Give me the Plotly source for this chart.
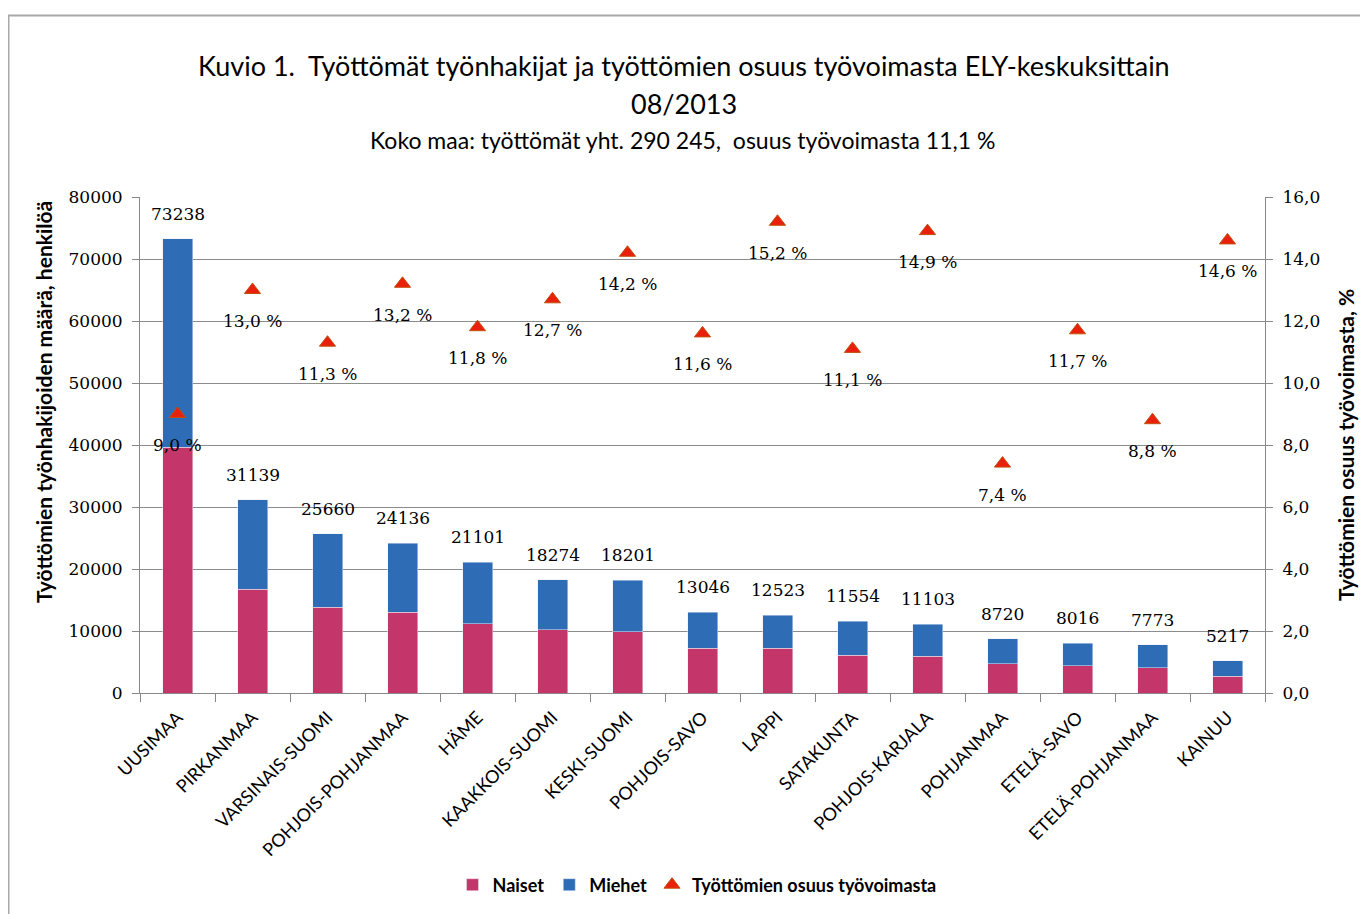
import plotly.graph_objects as go

regions = ["UUSIMAA", "PIRKANMAA", "VARSINAIS-SUOMI", "POHJOIS-POHJANMAA", "HÄME",
           "KAAKKOIS-SUOMI", "KESKI-SUOMI", "POHJOIS-SAVO", "LAPPI", "SATAKUNTA",
           "POHJOIS-KARJALA", "POHJANMAA", "ETELÄ-SAVO", "ETELÄ-POHJANMAA", "KAINUU"]
totals = [73238, 31139, 25660, 24136, 21101, 18274, 18201, 13046, 12523, 11554,
          11103, 8720, 8016, 7773, 5217]
naiset = [39600, 16700, 13800, 13000, 11200, 10200, 9900, 7200, 7200, 6100,
          5900, 4700, 4400, 4100, 2700]
miehet = [t - n for t, n in zip(totals, naiset)]
osuus = [9.0, 13.0, 11.3, 13.2, 11.8, 12.7, 14.2, 11.6, 15.2, 11.1, 14.9, 7.4, 11.7, 8.8, 14.6]

PINK = "#C4356A"
BLUE = "#2E6CB6"
SANS = "Lato, 'Open Sans', sans-serif"
SERIF = "'DejaVu Serif', serif"
TXT = "#000"

# page body has an 8px margin; work in page coordinates and convert
OFF = 8
W, H = 1360, 906
PL, PR, PT, PB = 140, 1265, 197, 693  # plot area in page pixels
ml = PL - OFF
mt = PT - OFF
mr = W - (PR - OFF)
mb = H - (PB - OFF)
pw, ph = W - ml - mr, H - mt - mb


def px(x):
    return (x - OFF - ml) / pw


def py(y):
    return (H - mb - (y - OFF)) / ph


fig = go.Figure()
fig.add_trace(go.Bar(x=regions, y=naiset, name="Naiset", marker_color=PINK,
                     width=0.4, hoverinfo="y"))
fig.add_trace(go.Bar(x=regions, y=miehet, name="Miehet", marker_color=BLUE,
                     width=0.4, hoverinfo="y"))
fig.add_trace(go.Scatter(x=regions, y=osuus, yaxis="y2", mode="markers",
                         name="Työttömien osuus työvoimasta",
                         marker=dict(symbol="triangle-up", size=14, color="#E8200C",
                                     line=dict(color="#C05010", width=1))))

annotations = []
for r, t in zip(regions, totals):
    annotations.append(dict(x=r, y=t, xref="x", yref="y", text=str(t), showarrow=False,
                            yanchor="bottom", yshift=13,
                            font=dict(family=SERIF, size=17, color=TXT)))
for r, p in zip(regions, osuus):
    annotations.append(dict(x=r, y=p, xref="x", yref="y2",
                            text=f"{p:.1f}".replace(".", ",") + " %", showarrow=False,
                            yanchor="top", yshift=-19,
                            font=dict(family=SERIF, size=17, color=TXT)))

annotations += [
    dict(x=px(684), y=py(65), xref="paper", yref="paper", xanchor="center", yanchor="middle",
         text="Kuvio 1.  Työttömät työnhakijat ja työttömien osuus työvoimasta ELY-keskuksittain",
         showarrow=False, font=dict(family=SANS, size=27, color=TXT)),
    dict(x=px(684), y=py(103), xref="paper", yref="paper", xanchor="center", yanchor="middle",
         text="08/2013", showarrow=False, font=dict(family=SANS, size=27, color=TXT)),
    dict(x=px(682), y=py(140), xref="paper", yref="paper", xanchor="center", yanchor="middle",
         text="Koko maa: työttömät yht. 290 245,  osuus työvoimasta 11,1 %",
         showarrow=False, font=dict(family=SANS, size=23, color=TXT)),
    dict(x=px(43), y=py(402), xref="paper", yref="paper", xanchor="center", yanchor="middle",
         text="<b>Työttömien työnhakijoiden määrä, henkilöä</b>", showarrow=False,
         textangle=-90, font=dict(family=SANS, size=21, color=TXT)),
    dict(x=px(1345), y=py(445), xref="paper", yref="paper", xanchor="center", yanchor="middle",
         text="<b>Työttömien osuus työvoimasta, %</b>", showarrow=False,
         textangle=-90, font=dict(family=SANS, size=21, color=TXT)),
]

fig.update_layout(
    width=W, height=H,
    barmode="stack",
    plot_bgcolor="white", paper_bgcolor="white",
    margin=dict(l=ml, r=mr, t=mt, b=mb, autoexpand=False),
    separators=", ",
    showlegend=True,
    legend=dict(orientation="h", x=px(697), xanchor="center", y=py(885), yanchor="middle",
                font=dict(family=SANS, size=18, color=TXT, weight="bold"),
                traceorder="normal", itemwidth=30),
    xaxis=dict(type="category", tickangle=-45, showline=True, linecolor="#888",
               ticks="outside", tickson="boundaries", ticklen=8, tickcolor="#888",
               ticklabelstandoff=6,
               tickfont=dict(family=SANS, size=18, color=TXT), showgrid=False,
               range=[-0.5, 14.5]),
    yaxis=dict(range=[0, 80000], dtick=10000, tickformat="d", showline=True,
               linecolor="#888", ticks="outside", ticklen=7, tickcolor="#888",
               ticklabelstandoff=6,
               gridcolor="#8c8c8c", gridwidth=1,
               tickfont=dict(family=SERIF, size=17, color=TXT), zeroline=False),
    yaxis2=dict(range=[0, 16], dtick=2, tickformat=".1f", overlaying="y", side="right",
                showline=True, linecolor="#888", ticks="outside", ticklen=7, tickcolor="#888",
                ticklabelstandoff=6,
                showgrid=False, zeroline=False,
                tickfont=dict(family=SERIF, size=17, color=TXT)),
    annotations=annotations,
    shapes=[dict(type="rect", xref="paper", yref="paper",
                 x0=px(8.5), x1=px(1400), y0=py(950), y1=py(15.5),
                 line=dict(color="#a8a8a8", width=2), layer="below")],
)

fig.write_html("out.html")
